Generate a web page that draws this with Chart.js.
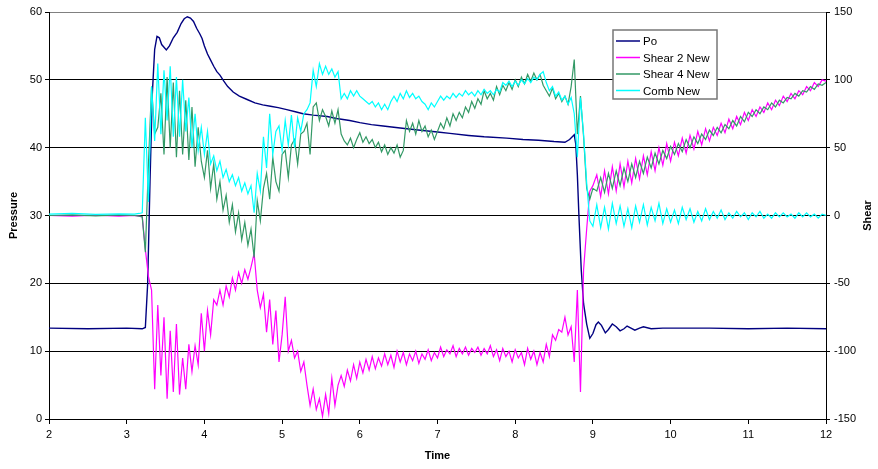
<!DOCTYPE html>
<html>
<head>
<meta charset="utf-8">
<script src="https://cdn.jsdelivr.net/npm/chart.js@4/dist/chart.umd.min.js"></script>
<style>
	html, body { margin: 0; padding: 0; background: #fff; }
</style>
</head>
<body>
<canvas id="pressureChart" width="878" height="469"></canvas>
<script>
// Po (pressure axis)
var poTime = [2.0, 2.5, 3.0, 3.2, 3.24, 3.27, 3.30, 3.33, 3.36, 3.39,
	3.42, 3.45, 3.48, 3.51, 3.55, 3.60, 3.65, 3.70, 3.74, 3.78,
	3.82, 3.86, 3.90, 3.94, 3.97, 4.00, 4.04, 4.08, 4.12, 4.16,
	4.20, 4.25, 4.30, 4.37, 4.45, 4.55, 4.65, 4.75, 4.85, 4.95,
	5.06, 5.17, 5.27, 5.40, 5.58, 5.70, 5.87, 6.00, 6.15, 6.30,
	6.52, 6.75, 7.00, 7.16, 7.40, 7.60, 7.89, 8.10, 8.30, 8.50,
	8.64, 8.70, 8.76, 8.78, 8.80, 8.82, 8.85, 8.88, 8.92, 8.96,
	9.00, 9.04, 9.07, 9.11, 9.16, 9.20, 9.25, 9.30, 9.35, 9.40,
	9.44, 9.49, 9.54, 9.60, 9.65, 9.75, 9.90, 10.5, 11.0, 11.5, 12.0];
var poValue = [13.4, 13.3, 13.4, 13.3, 13.5, 20, 35, 48, 54.5, 56.4,
	56.2, 55.2, 54.8, 54.4, 55.0, 56.2, 57.0, 58.3, 59.0, 59.3,
	59.1, 58.6, 57.6, 56.8, 56.1, 55.0, 53.8, 52.9, 52.0, 51.2,
	50.7, 49.8, 49.0, 48.2, 47.6, 47.1, 46.6, 46.3, 46.1, 45.9,
	45.6, 45.3, 45.0, 44.8, 44.6, 44.3, 44.0, 43.7, 43.4, 43.2,
	42.9, 42.6, 42.3, 42.1, 41.8, 41.6, 41.4, 41.2, 41.1, 40.9,
	40.8, 41.2, 41.9, 40.5, 36, 30, 22, 17, 14, 11.9,
	12.6, 13.9, 14.3, 13.8, 12.7, 13.2, 14.0, 13.6, 13.0, 13.3,
	13.7, 13.4, 13.1, 13.4, 13.6, 13.3, 13.4, 13.4, 13.3, 13.4, 13.3];

// time base shared by the three shear series
var shearTime = [2.0, 2.3, 2.6, 2.9, 3.1, 3.16,
	3.20, 3.24, 3.28, 3.32, 3.36, 3.40, 3.44, 3.48, 3.52, 3.56,
	3.60, 3.64, 3.68, 3.72, 3.76, 3.80, 3.84, 3.88, 3.92, 3.96,
	4.00, 4.04, 4.08, 4.12, 4.16, 4.20, 4.24, 4.28, 4.32, 4.36,
	4.40, 4.44, 4.48, 4.52, 4.56, 4.60, 4.64, 4.68, 4.72, 4.76,
	4.80, 4.84, 4.88, 4.92, 4.96, 5.00, 5.04, 5.08, 5.12, 5.16,
	5.20, 5.24, 5.28, 5.32, 5.36, 5.40, 5.44, 5.48, 5.52, 5.56,
	5.60, 5.64, 5.68, 5.72, 5.76, 5.80, 5.84, 5.88, 5.92, 5.96,
	6.00, 6.04, 6.08, 6.12, 6.16, 6.20, 6.24, 6.28, 6.32, 6.36,
	6.40, 6.44, 6.48, 6.52, 6.56, 6.60, 6.64, 6.68, 6.72, 6.76,
	6.80, 6.84, 6.88, 6.92, 6.96, 7.00, 7.04, 7.08, 7.12, 7.16,
	7.20, 7.24, 7.28, 7.32, 7.36, 7.40, 7.44, 7.48, 7.52, 7.56,
	7.60, 7.64, 7.68, 7.72, 7.76, 7.80, 7.84, 7.88, 7.92, 7.96,
	8.00, 8.04, 8.08, 8.12, 8.16, 8.20, 8.24, 8.28, 8.32, 8.36,
	8.40, 8.44, 8.48, 8.52, 8.56, 8.60, 8.64, 8.68, 8.72, 8.76,
	8.80, 8.84, 8.88, 8.92, 8.96, 9.00,
	9.05, 9.10, 9.15, 9.20, 9.25, 9.30, 9.35, 9.40, 9.45, 9.50,
	9.55, 9.60, 9.65, 9.70, 9.75, 9.80, 9.85, 9.90, 9.95, 10.00,
	10.05, 10.10, 10.15, 10.20, 10.25, 10.30, 10.35, 10.40, 10.45, 10.50,
	10.55, 10.60, 10.65, 10.70, 10.75, 10.80, 10.85, 10.90, 10.95, 11.00,
	11.05, 11.10, 11.15, 11.20, 11.25, 11.30, 11.35, 11.40, 11.45, 11.50,
	11.55, 11.60, 11.65, 11.70, 11.75, 11.80, 11.85, 11.90, 11.95, 12.00];

var shear2 = [0, -0.5, 0.3, -0.4, 0, -0.5,
	-1, -25, -45, -55, -128, -66, -118, -75, -135, -85,
	-130, -80, -132, -105, -128, -95, -115, -96, -110, -72,
	-100, -70, -88, -62, -66, -55, -66, -52, -60, -46,
	-55, -42, -50, -40, -47, -38, -28, -55, -68, -58,
	-86, -62, -95, -70, -108, -88, -60, -100, -92, -105,
	-100, -115, -108, -125, -140, -128, -143, -135, -148, -132,
	-146, -120, -140, -125, -118, -126, -114, -122, -110, -120,
	-108, -116, -106, -114, -104, -113, -105, -111, -102, -110,
	-103, -112, -100, -108, -101, -110, -102, -107, -100, -109,
	-102, -106, -99, -107, -101, -105, -97, -104, -99, -102,
	-96, -104, -98, -102, -97, -103, -98, -101, -97, -103,
	-98, -102, -96, -104, -99, -107, -98, -104, -100, -108,
	-99, -105, -101, -110, -98, -106, -100, -110, -101, -108,
	-95, -104, -88, -92, -84, -86, -75, -88, -82, -108,
	-55, -130, -40, -10, 18, 22,
	30, 14, 33, 16, 36, 18, 38, 21, 40, 24,
	42, 27, 44, 30, 47, 33, 50, 37, 53, 40,
	54, 44, 57, 46, 59, 49, 62, 52, 64, 55,
	65, 59, 68, 61, 71, 64, 73, 67, 76, 70,
	78, 73, 80, 76, 83, 78, 85, 81, 88, 84,
	90, 86, 92, 89, 95, 92, 98, 95, 100, 99];

var shear4 = [0, 0.5, -0.3, 0.4, 0, -0.5,
	-1, -27, 38, 95, 60, 65, 90, 45, 102, 50,
	98, 43, 92, 45, 85, 41, 80, 36, 65, 40,
	28, 48, 20, 38, 12, 25, 4, 15, -5, 8,
	-12, 2, -18, -5, -22, -10, -31, 11, -4, 20,
	31, 12, 43, 25, 18, 45, 48, 28, 52, 56,
	38, 60, 62, 68, 45, 80, 83, 70, 78, 73,
	66, 77, 68, 78, 60, 55, 52, 57, 50, 56,
	61, 54, 58, 53, 56, 50, 54, 47, 52, 45,
	50, 46, 52, 43, 48, 70, 62, 68, 60, 70,
	62, 66, 58, 63, 56, 62, 68, 64, 72, 66,
	75, 70, 76, 72, 80, 76, 84, 79, 86, 82,
	92, 86, 90, 85, 95, 89, 96, 92, 98, 93,
	100, 95, 102, 97, 104, 99, 105, 100, 104, 96,
	92, 88, 94, 86, 90, 84, 88, 82, 95, 115,
	60, 88, 58, 20, 12, 20,
	18, 28, 17, 31, 20, 33, 22, 35, 25, 38,
	28, 40, 31, 43, 35, 46, 38, 48, 42, 51,
	45, 53, 47, 56, 50, 58, 53, 60, 56, 63,
	59, 65, 61, 67, 64, 70, 66, 73, 69, 76,
	73, 78, 75, 80, 78, 83, 80, 85, 83, 87,
	86, 90, 88, 92, 91, 95, 93, 97, 96, 98];

var combNew = [1, 1.5, 0.8, 1.2, 1, 1.5,
	2, 72, 10, 95, 55, 112, 60, 107, 70, 110,
	58, 102, 58, 100, 62, 87, 50, 75, 48, 65,
	45, 62, 38, 44, 33, 40, 28, 34, 25, 30,
	22, 28, 18, 24, 16, 22, 2, 31, 18, 58,
	35, 75, 45, 62, 66, 48, 70, 52, 74, 50,
	72, 62, 75, 78, 83, 107, 95, 112, 104, 110,
	104, 108, 102, 106, 86, 90, 86, 92, 88, 92,
	88, 86, 84, 82, 84, 80, 83, 78, 82, 78,
	84, 88, 84, 90, 86, 92, 87, 90, 86, 88,
	84, 82, 78, 83, 80, 84, 88, 85, 88, 86,
	90, 87, 90, 88, 92, 89, 91, 88, 92, 89,
	93, 90, 92, 89, 93, 91, 98, 96, 99, 95,
	99, 96, 100, 97, 101, 98, 102, 100, 104, 106,
	98, 92, 95, 88, 91, 85, 88, 82, 87, 75,
	43, 87, 60, 24, -4, -8,
	8, -9, 6, -10, 9, -6, 7, -8, 5, -9,
	7, -5, 8, -7, 6, -4, 9, -6, 5, -5,
	4, -6, 6, -3, 5, -5, 3, -4, 5, -3,
	3, -2, 4, -3, 2, -2, 3, -1, 2, -3,
	2, -1, 3, -2, 1, -2, 2, -1, 2, -1,
	1, -2, 2, -1, 2, -1, 1, -2, 1, 0];

var pressureTicks = [0, 10, 20, 30, 40, 50, 60];
var shearTicks = [-150, -100, -50, 0, 50, 100, 150];
var timeTicks = [2, 3, 4, 5, 6, 7, 8, 9, 10, 11, 12];

var seriesNames = ['Po', 'Shear 2 New', 'Shear 4 New', 'Comb New'];
var seriesColors = ['#000080', '#FF00FF', '#339966', '#00FFFF'];

function pairs(xs, ys) {
	return xs.map(function (x, i) { return { x: x, y: ys[i] }; });
}

var FONT = '"Liberation Sans", Arial, sans-serif';

// legend box inside the plot + right axis title reading upwards
var extras = {
	id: 'extras',
	afterDraw: function (chart) {
		var ctx = chart.ctx;
		var area = chart.chartArea;
		ctx.save();
		ctx.font = 'bold 11px ' + FONT;
		ctx.fillStyle = '#000';
		ctx.textAlign = 'center';
		ctx.textBaseline = 'middle';
		ctx.translate(868, (area.top + area.bottom) / 2);
		ctx.rotate(-Math.PI / 2);
		ctx.fillText('Shear', 0, 0);
		ctx.restore();

		ctx.save();
		var bx = 613, by = 30, bw = 104, bh = 69;
		ctx.fillStyle = '#fff';
		ctx.fillRect(bx, by, bw, bh);
		ctx.strokeStyle = '#777';
		ctx.lineWidth = 1.5;
		ctx.strokeRect(bx, by, bw, bh);
		ctx.font = '11.5px ' + FONT;
		ctx.textAlign = 'left';
		ctx.textBaseline = 'middle';
		var rows = [41, 57.5, 74, 90.5];
		for (var i = 0; i < seriesNames.length; i++) {
			ctx.strokeStyle = seriesColors[i];
			ctx.lineWidth = 1.5;
			ctx.beginPath();
			ctx.moveTo(616, rows[i]);
			ctx.lineTo(640, rows[i]);
			ctx.stroke();
			ctx.fillStyle = '#000';
			ctx.fillText(seriesNames[i], 643, rows[i] + 1);
		}
		ctx.restore();
	}
};

var context = document.getElementById('pressureChart').getContext('2d');

var myChart = new Chart(context, {
	type: 'line',
	data: {
		datasets: [
			{ label: seriesNames[0], data: pairs(poTime, poValue), yAxisID: 'yP',
				borderColor: seriesColors[0], borderWidth: 1.4, order: 4 },
			{ label: seriesNames[1], data: pairs(shearTime, shear2), yAxisID: 'yS',
				borderColor: seriesColors[1], borderWidth: 1.2, order: 3 },
			{ label: seriesNames[2], data: pairs(shearTime, shear4), yAxisID: 'yS',
				borderColor: seriesColors[2], borderWidth: 1.2, order: 2 },
			{ label: seriesNames[3], data: pairs(shearTime, combNew), yAxisID: 'yS',
				borderColor: seriesColors[3], borderWidth: 1.2, order: 1 }
		]
	},
	options: {
		responsive: false,
		animation: false,
		devicePixelRatio: 1,
		layout: { padding: { top: 12, left: 0, right: 0, bottom: 0 } },
		elements: {
			point: { radius: 0 },
			line: { tension: 0, fill: false }
		},
		plugins: {
			legend: { display: false },
			tooltip: { enabled: false }
		},
		scales: {
			x: {
				type: 'linear',
				min: timeTicks[0],
				max: timeTicks[timeTicks.length - 1],
				afterBuildTicks: function (scale) {
					scale.ticks = timeTicks.map(function (v) { return { value: v }; });
				},
				afterFit: function (scale) { scale.height = 50; },
				ticks: { color: '#000', font: { family: FONT, size: 11 }, padding: 4, maxRotation: 0 },
				grid: { drawOnChartArea: false, drawTicks: true, tickLength: 5, tickColor: '#000' },
				border: { color: '#000', width: 1 },
				title: { display: true, text: 'Time', color: '#000',
					font: { family: FONT, size: 11, weight: 'bold' }, padding: { top: 0, bottom: 6 } }
			},
			yP: {
				type: 'linear',
				position: 'left',
				min: 0,
				max: 60,
				afterBuildTicks: function (scale) {
					scale.ticks = pressureTicks.map(function (v) { return { value: v }; });
				},
				afterFit: function (scale) { scale.width = 49; },
				ticks: { color: '#000', font: { family: FONT, size: 11 }, padding: 3 },
				grid: {
					color: function (c) { return c.tick && c.tick.value === 60 ? '#808080' : '#000'; },
					lineWidth: 1,
					tickLength: 4,
					tickColor: '#000'
				},
				border: { color: '#000', width: 1 },
				title: { display: true, text: 'Pressure', color: '#000',
					font: { family: FONT, size: 11, weight: 'bold' }, padding: { top: 7, bottom: 0 } }
			},
			yS: {
				type: 'linear',
				position: 'right',
				min: -150,
				max: 150,
				afterBuildTicks: function (scale) {
					scale.ticks = shearTicks.map(function (v) { return { value: v }; });
				},
				afterFit: function (scale) { scale.width = 52; },
				ticks: { color: '#000', font: { family: FONT, size: 11 }, padding: 4 },
				grid: { drawOnChartArea: false, tickLength: 4, tickColor: '#000' },
				border: { color: '#000', width: 1 },
				title: { display: false }
			}
		}
	},
	plugins: [extras]
});
</script>
</body>
</html>
